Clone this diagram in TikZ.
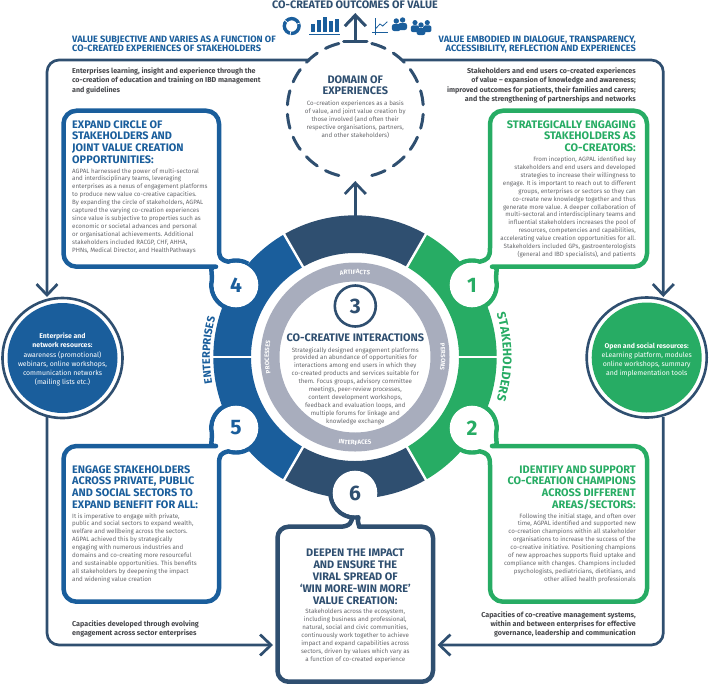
\documentclass[tikz,border=0pt]{standalone}
\usepackage{fontspec}
\setmainfont{Fira Sans}
\usetikzlibrary{calc,arrows.meta,decorations.text}
\definecolor{navy}{HTML}{2F4F70}
\definecolor{bblue}{HTML}{1A5E9C}
\definecolor{ggreen}{HTML}{27AC64}
\definecolor{ringgrey}{HTML}{A8ADBD}
\definecolor{bodygrey}{HTML}{66676B}
\definecolor{leadgrey}{HTML}{46474B}
\newcommand\bodyf{\fontsize{6.2}{7.92}\selectfont\color{bodygrey}}
\newcommand\leadf{\fontsize{7.15}{9.25}\selectfont\bfseries\color{leadgrey}}
\newcommand\titlef{\fontsize{10.9}{11.55}\selectfont\bfseries}
\newcommand\headf{\fontsize{9.2}{9.3}\selectfont\bfseries\color{bblue}}
\newcommand\sectorfill[3]{\fill[#3] ($(c)+(#1:141.7)$) arc[start angle=#1,end angle=#2,radius=141.7] -- ($(c)+(#2:104)$) arc[start angle=#2,end angle=#1,radius=104] -- cycle;}
\newcommand\person[4]{\fill[bblue] (#1,-#2) circle[radius=#3*2.7]; \fill[bblue,rounded corners=#3*2.2pt] (#1-#3*4.4,-#2-#3*10) rectangle (#1+#3*4.4,-#2-#3*3);}
\tikzset{
  x=1pt,y=1pt,
  loopline/.style={draw=navy,line width=2.7pt,line join=round},
  arrowline/.style={loopline,-{Straight Barb[length=11pt,width=21pt,line width=2.7pt]}},
  boxline/.style={line width=4.5pt,line join=round},
  numdisc/.style={circle,fill=white,minimum size=44.6pt,inner sep=0pt,font=\fontsize{21}{21}\selectfont\bfseries},
  ltext/.style={anchor=north west,align=left,inner sep=0pt},
  rtext/.style={anchor=north east,align=right,inner sep=0pt},
  ctext/.style={anchor=north,align=center,inner sep=0pt},
  ringlabel/.style={decorate,decoration={text along path,text align=center,text={|\fontsize{6.2}{7}\selectfont\bfseries\color{white}|#1}}},
  sidelabel/.style n args={3}{decorate,decoration={text along path,text align=center,text={|\fontsize{#1}{13}\selectfont\bfseries\color{#2}|#3}}}
}
\begin{document}
\begin{tikzpicture}
\useasboundingbox (0,0) rectangle (709,-686);
\coordinate (c) at (355,-357);
\coordinate (d) at (355.3,-109.5);
\coordinate (c1) at (472,-285);
\coordinate (c2) at (472,-428);
\coordinate (c4) at (236,-285);
\coordinate (c5) at (236,-428);
\coordinate (c6) at (355,-493);

% outer loops
\coordinate (domL) at (310,-60);
\coordinate (domR) at (403,-60);
\coordinate (entTop) at (47,-297);
\coordinate (opnTop) at (663.3,-297);
\coordinate (entBot) at (47,-417);
\coordinate (opnBot) at (663.3,-417);
\coordinate (b6L) at (273,-645);
\coordinate (b6R) at (437.5,-645);
\draw[arrowline,rounded corners=12pt] (domL) -- (47,-60) -- (entTop);
\draw[arrowline,rounded corners=12pt] (domR) -- (663.3,-60) -- (opnTop);
\draw[arrowline,rounded corners=12pt] (entBot) -- (47,-645) -- (b6L);
\draw[arrowline,rounded corners=12pt] (opnBot) -- (663.3,-645) -- (b6R);

% domain dashes
\foreach \a in {-70,-50,...,250}{
  \ifnum\a=90\else
  \draw[navy,line width=3pt,line cap=round] ($(d)+(\a+6:68)$) arc[start angle=\a+6,end angle=\a-6,radius=68];
  \fi}
% top arrow
\coordinate (outTip) at (355.3,-13);
\coordinate (outBase) at (355.3,-41);
\draw[navy,line width=3pt,line cap=round] (343.5,-41) -- (367,-41);
\draw[navy,line width=3pt,-{Straight Barb[length=11pt,width=21pt,line width=3pt]}] (outBase) -- (outTip);
% lower arrow
\coordinate (ringTop) at (355.3,-220);
\coordinate (domBot) at (355.3,-181);
\draw[navy,line width=2.7pt,-{Straight Barb[length=11pt,width=21pt,line width=2.7pt]}] (ringTop) -- (domBot);

% coloured ring
\sectorfill{60}{120}{navy}
\sectorfill{0}{60}{ggreen}
\sectorfill{-60}{0}{ggreen}
\sectorfill{120}{180}{bblue}
\sectorfill{180}{240}{bblue}
\sectorfill{240}{300}{navy}
\foreach \a/\w in {0/1.5,180/1.5,60/2.4,120/2.4,240/2.4,300/2.4}{
  \draw[white,line width=\w pt] ($(c)+(\a:103)$) -- ($(c)+(\a:143)$);}

% box outlines
\draw[bblue,boxline] (c4)+(60:24.5) arc[start angle=60,end angle=108,radius=24.5] .. controls +(-8,2) and (219,-258) .. (219,-248) [rounded corners=13pt] -- (219,-110.7) -- (63.5,-110.7) -- (63.5,-266.7) -- (203,-266.7) [sharp corners] .. controls (209,-266.7) and (212,-270) .. (212,-279.5) arc[start angle=167,end angle=240,radius=24.5];
\draw[ggreen,boxline] (c1)+(120:24.5) arc[start angle=120,end angle=72,radius=24.5] .. controls +(8,2) and (490,-258) .. (490,-248) [rounded corners=13pt] -- (490,-110.7) -- (647,-110.7) -- (647,-266.7) -- (505,-266.7) [sharp corners] .. controls (499,-266.7) and (496,-270) .. (496,-279.5) arc[start angle=13,end angle=-60,radius=24.5];
\draw[bblue,boxline] (c5)+(-60:24.5) arc[start angle=-60,end angle=-108,radius=24.5] .. controls +(-8,-2) and (219,-455) .. (219,-465) [rounded corners=13pt] -- (219,-601.7) -- (63.5,-601.7) -- (63.5,-446) -- (203,-446) [sharp corners] .. controls (209,-446) and (212,-443) .. (212,-433.5) arc[start angle=193,end angle=120,radius=24.5];
\draw[ggreen,boxline] (c2)+(-120:24.5) arc[start angle=-120,end angle=-72,radius=24.5] .. controls +(8,-2) and (490,-455) .. (490,-465) [rounded corners=13pt] -- (490,-601.7) -- (647,-601.7) -- (647,-446) -- (505,-446) [sharp corners] .. controls (499,-446) and (496,-443) .. (496,-433.5) arc[start angle=-13,end angle=60,radius=24.5];
\draw[navy,boxline] (c6)+(150:24.5) arc[start angle=150,end angle=262,radius=24.5] .. controls +(1,-4) and (350,-526.7) .. (340,-526.7) [rounded corners=11pt] -- (277.5,-526.7) -- (277.5,-681.7) -- (433,-681.7) -- (433,-526.7) -- (370,-526.7) [sharp corners] .. controls (360,-526.7) and (356.6,-522) .. (358.4,-517.3) arc[start angle=278,end angle=30,radius=24.5];

% number discs
\node[numdisc,text=ggreen] (n1) at (c1) {1};
\node[numdisc,text=ggreen] (n2) at (c2) {2};
\node[numdisc,text=bblue] (n4) at (c4) {4};
\node[numdisc,text=bblue] (n5) at (c5) {5};
\node[numdisc,text=navy] (n6) at (c6) {6};

% grey ring and centre
\draw[ringgrey,line width=19pt] (c) circle[radius=85];
\node[circle,draw=navy,line width=2.6pt,fill=white,minimum size=41pt,inner sep=0pt,text=navy,font=\fontsize{21}{21}\selectfont\bfseries] (n3) at (355.3,-306) {3};
\path[ringlabel=ARTIFACTS] ($(c)+(115:83)$) arc[start angle=115,end angle=65,radius=83];
\path[ringlabel=PERSONS] ($(c)+(25:86)$) arc[start angle=25,end angle=-25,radius=86];
\path[ringlabel=INTERFACES] ($(c)+(245:88)$) arc[start angle=245,end angle=295,radius=88];
\path[ringlabel=PROCESSES] ($(c)+(205:86)$) arc[start angle=205,end angle=155,radius=86];
\path[sidelabel={11}{bblue}{ENTERPRISES}] ($(c)+(197.3:145)$) arc[start angle=197.3,end angle=157.3,radius=145];
\path[sidelabel={12.3}{ggreen}{STAKEHOLDERS}] ($(c)+(27:148)$) arc[start angle=27,end angle=-27,radius=148];

\node[ctext,text=navy,font=\titlef] (t3) at (355.3,-333.5) {CO-CREATIVE INTERACTIONS};
\node[ctext,font=\bodyf] (b3) at (355.3,-347) {Strategically designed engagement platforms\\
provided an abundance of opportunities for\\
interactions among end users in which they\\
co-created products and services suitable for\\
them. Focus groups, advisory committee\\
meetings, peer-review processes,\\
content development workshops,\\
feedback and evaluation loops, and\\
multiple forums for linkage and\\
knowledge exchange};

% resource circles
\node[circle,draw=navy,line width=2.6pt,fill=white,minimum size=120pt,inner sep=0pt] (ent) at (62.5,-358) {};
\fill[bblue] (ent.center) circle[radius=55];
\node[ctext,font=\fontsize{6.9}{9.1}\selectfont\color{white}] (entt) at (62.5,-333) {\textbf{Enterprise and}\\ \textbf{network resources:}\\ awareness (promotional)\\ webinars, online workshops,\\ communication networks\\ (mailing lists etc.)};
\node[circle,draw=navy,line width=2.6pt,fill=white,minimum size=120pt,inner sep=0pt] (opn) at (646.7,-357.5) {};
\fill[ggreen] (opn.center) circle[radius=55];
\node[ctext,font=\fontsize{6.9}{9.1}\selectfont\color{white}] (opnt) at (646.7,-342.7) {\textbf{Open and social resources:}\\ eLearning platform, modules\\ online workshops, summary\\ and implementation tools};

% top
\node[ctext,text=navy,font=\fontsize{10.85}{11}\selectfont\bfseries] (out) at (355,-0.5) {CO-CREATED OUTCOMES OF VALUE};
\node[ltext,font=\headf] (hl) at (72,-35.5) {VALUE SUBJECTIVE AND VARIES AS A FUNCTION OF\\ CO-CREATED EXPERIENCES OF STAKEHOLDERS};
\node[rtext,font=\headf] (hr) at (636,-35.5) {VALUE EMBODIED IN DIALOGUE, TRANSPARENCY,\\ ACCESSIBILITY, REFLECTION AND EXPERIENCES};
\node[ltext,font=\leadf] (ll) at (72,-67.5) {Enterprises learning, insight and experience through the\\ co-creation of education and training on IBD management\\ and guidelines};
\node[rtext,font=\leadf] (lr) at (636,-67.5) {Stakeholders and end users co-created experiences\\ of value -- expansion of knowledge and awareness;\\ improved outcomes for patients, their families and carers;\\ and the strengthening of partnerships and networks};

% domain
\node[ctext,text=navy,font=\titlef] (dt) at (355.3,-75.5) {DOMAIN OF\\ EXPERIENCES};
\node[ctext,font=\bodyf] (db) at (355.3,-100.5) {Co-creation experiences as a basis\\ of value, and joint value creation by\\ those involved (and often their\\ respective organisations, partners,\\ and other stakeholders)};

% box 4
\node[ltext,text=bblue,font=\titlef] (t4) at (72,-120.5) {EXPAND CIRCLE OF\\ STAKEHOLDERS AND\\ JOINT VALUE CREATION\\ OPPORTUNITIES:};
\node[ltext,font=\bodyf] (b4) at (72,-168) {AGPAL harnessed the power of multi-sectoral\\
and interdisciplinary teams, leveraging\\
enterprises as a nexus of engagement platforms\\
to produce new value co-creative capacities.\\
By expanding the circle of stakeholders, AGPAL\\
captured the varying co-creation experiences\\
since value is subjective to properties such as\\
economic or societal advances and personal\\
or organisational achievements. Additional\\
stakeholders included RACGP, CHF, AHHA,\\
PHNs, Medical Director, and HealthPathways};

% box 1
\node[rtext,text=ggreen,font=\titlef] (t1) at (636,-120.5) {STRATEGICALLY ENGAGING\\ STAKEHOLDERS AS\\ CO-CREATORS:};
\node[rtext,font=\bodyf] (b1) at (636,-156.5) {From inception, AGPAL identified key\\
stakeholders and end users and developed\\
strategies to increase their willingness to\\
engage. It is important to reach out to different\\
groups, enterprises or sectors so they can\\
co-create new knowledge together and thus\\
generate more value. A deeper collaboration of\\
multi-sectoral and interdisciplinary teams and\\
influential stakeholders increases the pool of\\
resources, competencies and capabilities,\\
accelerating value creation opportunities for all.\\
Stakeholders included GPs, gastroenterologists\\
(general and IBD specialists), and patients};

% box 5
\node[ltext,text=bblue,font=\titlef] (t5) at (72,-465.5) {ENGAGE STAKEHOLDERS\\ ACROSS PRIVATE, PUBLIC\\ AND SOCIAL SECTORS TO\\ EXPAND BENEFIT FOR ALL:};
\node[ltext,font=\bodyf] (b5) at (72,-513) {It is imperative to engage with private,\\
public and social sectors to expand wealth,\\
welfare and wellbeing across the sectors.\\
AGPAL achieved this by strategically\\
engaging with numerous industries and\\
domains and co-creating more resourceful\\
and sustainable opportunities. This benefits\\
all stakeholders by deepening the impact\\
and widening value creation};

% box 2
\node[rtext,text=ggreen,font=\titlef] (t2) at (636,-465.5) {IDENTIFY AND SUPPORT\\ CO-CREATION CHAMPIONS\\ ACROSS DIFFERENT\\ AREAS/SECTORS:};
\node[rtext,font=\bodyf] (b2) at (636,-513) {Following the initial stage, and often over\\
time, AGPAL identified and supported new\\
co-creation champions within all stakeholder\\
organisations to increase the success of the\\
co-creative initiative. Positioning champions\\
of new approaches supports fluid uptake and\\
compliance with changes. Champions included\\
psychologists, pediatricians, dietitians, and\\
other allied health professionals};

% box 6
\node[ctext,text=navy,font=\fontsize{10.9}{11.95}\selectfont\bfseries] (t6) at (355.3,-549) {DEEPEN THE IMPACT\\ AND ENSURE THE\\ VIRAL SPREAD OF\\ `WIN MORE-WIN MORE'\\ VALUE CREATION:};
\node[ctext,font=\bodyf] (b6) at (355.3,-608.7) {Stakeholders across the ecosystem,\\
including business and professional,\\
natural, social and civic communities,\\
continuously work together to achieve\\
impact and expand capabilities across\\
sectors, driven by values which vary as\\
a function of co-created experience};

% bottom leads
\node[ltext,font=\leadf] (lb1) at (72,-620) {Capacities developed through evolving\\ engagement across sector enterprises};
\node[rtext,font=\leadf] (lb2) at (636,-611) {Capacities of co-creative management systems,\\ within and between enterprises for effective\\ governance, leadership and communication};

% icons
\draw[bblue,line width=3.4pt] (291.7,-26) circle[radius=7.4];
\foreach \a in {20,140,260}{\draw[white,line width=.7pt] ($(291.7,-26)+(\a:5.2)$) -- ($(291.7,-26)+(\a:9.6)$);}
\foreach \x/\t in {313/24,319/20,325/16.5,331/21,337/18.5}{\fill[bblue] (\x-1.8,-32.3) rectangle (\x+1.8,-\t);}
\draw[bblue,line width=1pt] (309,-34) -- (339.7,-34);
\draw[bblue,line width=.9pt] (375,-18) -- (375,-34.5) (372,-32.5) -- (388,-32.5);
\draw[bblue,line width=.8pt] (376,-28.3) -- (380,-24) -- (382.7,-26) -- (387.3,-21.7);
\person{396.3}{21}{1}{}
\person{402.6}{20}{1}{}
\person{415}{22.6}{.95}{}
\person{421}{25}{1}{}
\person{427.3}{22.6}{.95}{}
\end{tikzpicture}
\end{document}
